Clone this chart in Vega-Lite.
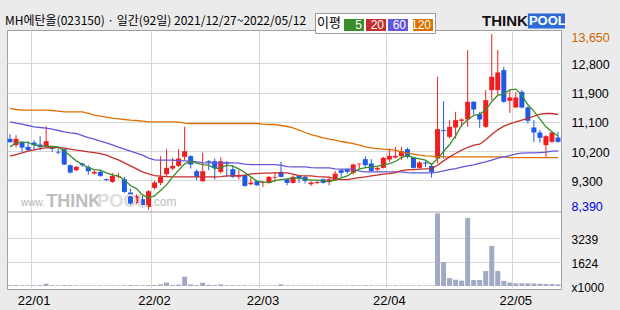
{
"$schema":"https://vega.github.io/schema/vega-lite/v6.json",
"width":554,"height":259,"autosize":"none",
"padding":{"left":7,"top":30,"right":59,"bottom":21},
"background":"#ebebeb",
"config":{"view":{"fill":"white","stroke":"#a0a0a0"},"axis":{"labelFont":"Liberation Sans","labelColor":"#000000","domain":false,"ticks":false,"gridColor":"#d8d8d8","gridWidth":1}},
"data":{"values":[
{"d":"2021-12-27","open":10510,"high":10650,"low":10390,"close":10410,"vol":60,"ma5":10270,"ma20":9990,"ma60":11020,"ma120":11420},
{"d":"2021-12-28","open":10320,"high":10620,"low":10250,"close":10510,"vol":60,"ma5":10390,"ma20":10040,"ma60":10980,"ma120":11390},
{"d":"2021-12-29","open":10400,"high":10420,"low":10120,"close":10250,"vol":50,"ma5":10420,"ma20":10090,"ma60":10950,"ma120":11370},
{"d":"2021-12-30","open":10270,"high":10440,"low":10150,"close":10170,"vol":50,"ma5":10400,"ma20":10140,"ma60":10910,"ma120":11370},
{"d":"2022-01-03","open":10400,"high":10470,"low":10170,"close":10320,"vol":50,"ma5":10330,"ma20":10180,"ma60":10870,"ma120":11370},
{"d":"2022-01-04","open":10340,"high":10590,"low":10170,"close":10260,"vol":60,"ma5":10300,"ma20":10220,"ma60":10850,"ma120":11370},
{"d":"2022-01-05","open":10270,"high":10890,"low":10250,"close":10440,"vol":150,"ma5":10290,"ma20":10240,"ma60":10830,"ma120":11370},
{"d":"2022-01-06","open":10250,"high":10300,"low":10120,"close":10210,"vol":50,"ma5":10280,"ma20":10250,"ma60":10800,"ma120":11360},
{"d":"2022-01-07","open":10120,"high":10220,"low":10050,"close":10100,"vol":40,"ma5":10270,"ma20":10250,"ma60":10760,"ma120":11340},
{"d":"2022-01-10","open":10200,"high":10220,"low":9720,"close":9740,"vol":60,"ma5":10150,"ma20":10230,"ma60":10720,"ma120":11320},
{"d":"2022-01-11","open":9720,"high":9740,"low":9470,"close":9500,"vol":60,"ma5":10000,"ma20":10200,"ma60":10690,"ma120":11320},
{"d":"2022-01-12","open":9570,"high":9700,"low":9540,"close":9670,"vol":40,"ma5":9850,"ma20":10170,"ma60":10670,"ma120":11320},
{"d":"2022-01-13","open":9770,"high":9790,"low":9670,"close":9720,"vol":40,"ma5":9750,"ma20":10150,"ma60":10610,"ma120":11320},
{"d":"2022-01-14","open":9670,"high":9720,"low":9440,"close":9540,"vol":40,"ma5":9640,"ma20":10120,"ma60":10550,"ma120":11270},
{"d":"2022-01-17","open":9470,"high":9570,"low":9440,"close":9520,"vol":40,"ma5":9590,"ma20":10100,"ma60":10500,"ma120":11220},
{"d":"2022-01-18","open":9520,"high":9570,"low":9370,"close":9400,"vol":40,"ma5":9570,"ma20":10070,"ma60":10440,"ma120":11190},
{"d":"2022-01-19","open":9300,"high":9320,"low":9250,"close":9270,"vol":40,"ma5":9490,"ma20":10020,"ma60":10390,"ma120":11160},
{"d":"2022-01-20","open":9220,"high":9490,"low":9190,"close":9400,"vol":40,"ma5":9430,"ma20":9950,"ma60":10330,"ma120":11130},
{"d":"2022-01-21","open":9370,"high":9490,"low":9320,"close":9390,"vol":40,"ma5":9400,"ma20":9880,"ma60":10260,"ma120":11110},
{"d":"2022-01-24","open":9300,"high":9370,"low":8890,"close":8920,"vol":50,"ma5":9280,"ma20":9790,"ma60":10200,"ma120":11090},
{"d":"2022-01-25","open":8900,"high":9020,"low":8470,"close":8570,"vol":60,"ma5":9110,"ma20":9700,"ma60":10140,"ma120":11070},
{"d":"2022-01-26","open":8590,"high":8850,"low":8550,"close":8800,"vol":50,"ma5":9020,"ma20":9610,"ma60":10080,"ma120":11060},
{"d":"2022-01-27","open":8700,"high":8800,"low":8450,"close":8470,"vol":50,"ma5":8830,"ma20":9520,"ma60":10020,"ma120":11040},
{"d":"2022-01-28","open":8470,"high":8970,"low":8390,"close":8940,"vol":60,"ma5":8740,"ma20":9460,"ma60":9930,"ma120":11020},
{"d":"2022-02-03","open":9040,"high":9250,"low":8990,"close":9200,"vol":60,"ma5":8800,"ma20":9410,"ma60":9880,"ma120":11020},
{"d":"2022-02-04","open":9190,"high":9990,"low":9120,"close":9370,"vol":110,"ma5":8960,"ma20":9390,"ma60":9870,"ma120":11020},
{"d":"2022-02-07","open":9450,"high":10200,"low":9370,"close":9640,"vol":230,"ma5":9130,"ma20":9380,"ma60":9870,"ma120":11020},
{"d":"2022-02-08","open":9620,"high":9940,"low":9570,"close":9700,"vol":70,"ma5":9370,"ma20":9370,"ma60":9870,"ma120":11020},
{"d":"2022-02-09","open":9700,"high":10200,"low":9670,"close":9920,"vol":90,"ma5":9570,"ma20":9370,"ma60":9860,"ma120":11010},
{"d":"2022-02-10","open":9970,"high":10870,"low":9870,"close":10140,"vol":620,"ma5":9760,"ma20":9370,"ma60":9850,"ma120":10980},
{"d":"2022-02-11","open":9990,"high":10020,"low":9620,"close":9740,"vol":110,"ma5":9830,"ma20":9370,"ma60":9840,"ma120":10970},
{"d":"2022-02-14","open":9540,"high":9600,"low":9270,"close":9370,"vol":60,"ma5":9780,"ma20":9370,"ma60":9820,"ma120":10970},
{"d":"2022-02-15","open":9240,"high":10100,"low":9220,"close":9540,"vol":220,"ma5":9740,"ma20":9370,"ma60":9800,"ma120":10970},
{"d":"2022-02-16","open":9840,"high":9870,"low":9570,"close":9800,"vol":80,"ma5":9720,"ma20":9370,"ma60":9790,"ma120":10970},
{"d":"2022-02-17","open":9840,"high":9920,"low":9290,"close":9640,"vol":60,"ma5":9620,"ma20":9370,"ma60":9790,"ma120":10970},
{"d":"2022-02-18","open":9520,"high":9950,"low":9470,"close":9840,"vol":110,"ma5":9640,"ma20":9380,"ma60":9790,"ma120":10970},
{"d":"2022-02-21","open":9810,"high":9840,"low":9370,"close":9770,"vol":50,"ma5":9720,"ma20":9400,"ma60":9790,"ma120":10970},
{"d":"2022-02-22","open":9600,"high":9720,"low":9340,"close":9370,"vol":50,"ma5":9690,"ma20":9400,"ma60":9790,"ma120":10970},
{"d":"2022-02-23","open":9370,"high":9570,"low":9290,"close":9420,"vol":40,"ma5":9610,"ma20":9410,"ma60":9780,"ma120":10970},
{"d":"2022-02-24","open":9420,"high":9440,"low":9070,"close":9100,"vol":50,"ma5":9500,"ma20":9420,"ma60":9750,"ma120":10970},
{"d":"2022-02-25","open":9150,"high":9350,"low":9120,"close":9200,"vol":40,"ma5":9370,"ma20":9460,"ma60":9740,"ma120":10970},
{"d":"2022-02-28","open":9240,"high":9270,"low":9100,"close":9120,"vol":40,"ma5":9240,"ma20":9470,"ma60":9740,"ma120":10970},
{"d":"2022-03-02","open":9190,"high":9250,"low":9070,"close":9220,"vol":40,"ma5":9210,"ma20":9480,"ma60":9740,"ma120":10950},
{"d":"2022-03-03","open":9190,"high":9400,"low":9170,"close":9370,"vol":40,"ma5":9200,"ma20":9480,"ma60":9740,"ma120":10940},
{"d":"2022-03-04","open":9350,"high":9520,"low":9220,"close":9370,"vol":40,"ma5":9260,"ma20":9490,"ma60":9740,"ma120":10940},
{"d":"2022-03-07","open":9520,"high":9820,"low":9350,"close":9370,"vol":110,"ma5":9290,"ma20":9490,"ma60":9720,"ma120":10910},
{"d":"2022-03-08","open":9300,"high":9320,"low":9120,"close":9190,"vol":40,"ma5":9310,"ma20":9490,"ma60":9680,"ma120":10880},
{"d":"2022-03-10","open":9190,"high":9420,"low":9170,"close":9370,"vol":40,"ma5":9340,"ma20":9450,"ma60":9670,"ma120":10840},
{"d":"2022-03-11","open":9400,"high":9420,"low":9190,"close":9320,"vol":40,"ma5":9330,"ma20":9410,"ma60":9670,"ma120":10770},
{"d":"2022-03-14","open":9370,"high":9400,"low":9170,"close":9250,"vol":40,"ma5":9300,"ma20":9400,"ma60":9670,"ma120":10700},
{"d":"2022-03-15","open":9150,"high":9240,"low":9100,"close":9200,"vol":40,"ma5":9270,"ma20":9400,"ma60":9650,"ma120":10640},
{"d":"2022-03-16","open":9190,"high":9240,"low":9150,"close":9220,"vol":40,"ma5":9270,"ma20":9380,"ma60":9640,"ma120":10590},
{"d":"2022-03-17","open":9300,"high":9320,"low":9170,"close":9190,"vol":40,"ma5":9240,"ma20":9370,"ma60":9640,"ma120":10540},
{"d":"2022-03-18","open":9220,"high":9370,"low":9120,"close":9300,"vol":40,"ma5":9230,"ma20":9360,"ma60":9640,"ma120":10500},
{"d":"2022-03-21","open":9270,"high":9550,"low":9250,"close":9470,"vol":40,"ma5":9280,"ma20":9300,"ma60":9610,"ma120":10470},
{"d":"2022-03-22","open":9570,"high":9600,"low":9370,"close":9490,"vol":40,"ma5":9340,"ma20":9290,"ma60":9600,"ma120":10430},
{"d":"2022-03-23","open":9600,"high":9620,"low":9470,"close":9520,"vol":40,"ma5":9400,"ma20":9290,"ma60":9600,"ma120":10400},
{"d":"2022-03-24","open":9490,"high":9770,"low":9440,"close":9740,"vol":50,"ma5":9510,"ma20":9320,"ma60":9600,"ma120":10370},
{"d":"2022-03-25","open":9750,"high":9770,"low":9600,"close":9770,"vol":40,"ma5":9600,"ma20":9350,"ma60":9540,"ma120":10320},
{"d":"2022-03-28","open":9900,"high":9990,"low":9670,"close":9720,"vol":50,"ma5":9650,"ma20":9370,"ma60":9520,"ma120":10270},
{"d":"2022-03-29","open":9770,"high":9900,"low":9520,"close":9550,"vol":40,"ma5":9660,"ma20":9400,"ma60":9520,"ma120":10240},
{"d":"2022-03-30","open":9590,"high":9670,"low":9520,"close":9640,"vol":40,"ma5":9690,"ma20":9420,"ma60":9520,"ma120":10220},
{"d":"2022-03-31","open":9640,"high":9970,"low":9620,"close":9940,"vol":40,"ma5":9730,"ma20":9450,"ma60":9520,"ma120":10200},
{"d":"2022-04-01","open":9890,"high":10220,"low":9820,"close":10000,"vol":40,"ma5":9770,"ma20":9470,"ma60":9520,"ma120":10190},
{"d":"2022-04-04","open":9950,"high":10270,"low":9920,"close":10000,"vol":40,"ma5":9830,"ma20":9500,"ma60":9520,"ma120":10170},
{"d":"2022-04-05","open":9990,"high":10270,"low":9870,"close":10140,"vol":40,"ma5":9950,"ma20":9560,"ma60":9520,"ma120":10110},
{"d":"2022-04-06","open":10200,"high":10250,"low":9920,"close":9970,"vol":40,"ma5":10010,"ma20":9580,"ma60":9500,"ma120":10080},
{"d":"2022-04-07","open":9950,"high":9970,"low":9620,"close":9640,"vol":40,"ma5":9950,"ma20":9590,"ma60":9490,"ma120":10050},
{"d":"2022-04-08","open":9640,"high":9840,"low":9620,"close":9800,"vol":40,"ma5":9910,"ma20":9600,"ma60":9490,"ma120":10020},
{"d":"2022-04-11","open":9800,"high":9840,"low":9670,"close":9770,"vol":40,"ma5":9870,"ma20":9610,"ma60":9490,"ma120":10000},
{"d":"2022-04-12","open":9700,"high":9770,"low":9350,"close":9520,"vol":40,"ma5":9740,"ma20":9620,"ma60":9490,"ma120":9990},
{"d":"2022-04-13","open":9920,"high":12370,"low":9770,"close":10800,"vol":4850,"ma5":9910,"ma20":9720,"ma60":9510,"ma120":9970},
{"d":"2022-04-14","open":10770,"high":11640,"low":9920,"close":10740,"vol":1600,"ma5":10130,"ma20":9850,"ma60":9550,"ma120":9970},
{"d":"2022-04-15","open":10570,"high":11070,"low":10520,"close":10870,"vol":530,"ma5":10340,"ma20":9970,"ma60":9590,"ma120":9970},
{"d":"2022-04-18","open":10850,"high":11320,"low":10520,"close":11070,"vol":420,"ma5":10600,"ma20":10070,"ma60":9620,"ma120":9970},
{"d":"2022-04-19","open":11050,"high":11120,"low":10870,"close":11090,"vol":360,"ma5":10920,"ma20":10170,"ma60":9660,"ma120":9970},
{"d":"2022-04-20","open":11090,"high":13170,"low":10870,"close":11620,"vol":4550,"ma5":11080,"ma20":10250,"ma60":9700,"ma120":9970},
{"d":"2022-04-21","open":11620,"high":11640,"low":11220,"close":11390,"vol":400,"ma5":11210,"ma20":10320,"ma60":9730,"ma120":9970},
{"d":"2022-04-22","open":11250,"high":11320,"low":10840,"close":11090,"vol":400,"ma5":11250,"ma20":10350,"ma60":9780,"ma120":9970},
{"d":"2022-04-25","open":10870,"high":11970,"low":10840,"close":11670,"vol":1000,"ma5":11370,"ma20":10480,"ma60":9820,"ma120":9970},
{"d":"2022-04-26","open":11970,"high":13650,"low":11670,"close":12370,"vol":2680,"ma5":11630,"ma20":10640,"ma60":9870,"ma120":9970},
{"d":"2022-04-27","open":11970,"high":13170,"low":11820,"close":12500,"vol":1010,"ma5":11810,"ma20":10780,"ma60":9930,"ma120":9970},
{"d":"2022-04-28","open":12570,"high":12670,"low":11590,"close":11620,"vol":340,"ma5":11850,"ma20":10890,"ma60":9970,"ma120":9970},
{"d":"2022-04-29","open":11650,"high":11970,"low":11290,"close":11750,"vol":230,"ma5":11980,"ma20":10960,"ma60":10010,"ma120":9950},
{"d":"2022-05-02","open":11450,"high":11920,"low":11440,"close":11750,"vol":180,"ma5":12000,"ma20":11020,"ma60":10060,"ma120":9950},
{"d":"2022-05-03","open":11920,"high":11970,"low":11420,"close":11450,"vol":180,"ma5":11820,"ma20":11070,"ma60":10080,"ma120":9950},
{"d":"2022-05-04","open":11450,"high":11490,"low":10970,"close":11050,"vol":180,"ma5":11530,"ma20":11120,"ma60":10090,"ma120":9950},
{"d":"2022-05-06","open":10850,"high":11070,"low":10420,"close":10700,"vol":170,"ma5":11340,"ma20":11190,"ma60":10090,"ma120":9950},
{"d":"2022-05-09","open":10700,"high":10770,"low":10400,"close":10540,"vol":150,"ma5":11100,"ma20":11250,"ma60":10100,"ma120":9950},
{"d":"2022-05-10","open":10320,"high":10620,"low":9950,"close":10590,"vol":140,"ma5":10870,"ma20":11270,"ma60":10110,"ma120":9950},
{"d":"2022-05-11","open":10420,"high":10720,"low":10390,"close":10700,"vol":130,"ma5":10720,"ma20":11270,"ma60":10140,"ma120":9950},
{"d":"2022-05-12","open":10550,"high":10720,"low":10390,"close":10420,"vol":110,"ma5":10590,"ma20":11240,"ma60":10150,"ma120":9950}
]},
"encoding":{"x":{"field":"d","type":"ordinal","scale":{"type":"band","paddingInner":0,"paddingOuter":0},
 "axis":{"values":["2022-01-03","2022-02-03","2022-03-02","2022-04-01","2022-05-02"],"bandPosition":0,"labelExpr":"slice(datum.value,2,4) + '/' + slice(datum.value,5,7)","title":null,"grid":true,"labelFontSize":13,"labelPadding":5,"labelAngle":0}}},
"layer":[
 {"layer":[
  {"mark":{"type":"rule","strokeWidth":1},
   "encoding":{"y":{"field":"low","type":"quantitative","scale":{"domain":[6010,13772],"zero":false,"nice":false},
     "axis":{"orient":"right","title":null,"values":[13650,12773.33,11896.67,11020,10143.33,9266.67,8390],
      "labelExpr":"datum.value > 13600 ? '13,650' : datum.value < 8400 ? '8,390' : format(ceil(datum.value/100)*100, ',')",
      "labelColor":{"condition":[{"test":"datum.value > 13600","value":"#cc6600"},{"test":"datum.value < 8400","value":"#0000dd"}],"value":"#000000"},
      "labelOffset":{"condition":[{"test":"datum.value > 13600","value":3},{"test":"datum.value < 8400","value":-3}],"value":1},
      "grid":true,"gridOpacity":{"condition":{"test":"datum.value > 13600 || datum.value < 8400","value":0},"value":1},
      "labelPadding":10,"labelFontSize":12.5}},
    "y2":{"field":"high"},
    "color":{"condition":{"test":"datum.close >= datum.open","value":"#f01e1e"},"value":"#1e5ae6"}}},
  {"mark":{"type":"bar","width":5},
   "encoding":{"y":{"field":"open","type":"quantitative"},"y2":{"field":"close"},
    "color":{"condition":{"test":"datum.close >= datum.open","value":"#f01e1e"},"value":"#1e5ae6"}}},
  {"transform":[{"fold":["ma120","ma60","ma20","ma5"],"as":["ma","val"]}],
   "mark":{"type":"line","strokeWidth":1.3},
   "encoding":{"y":{"field":"val","type":"quantitative"},
    "color":{"field":"ma","type":"nominal","scale":{"domain":["ma5","ma20","ma60","ma120"],"range":["#3c8c28","#c62e2e","#6457d8","#de7000"]},
     "legend":{"orient":"none","legendX":308,"legendY":-17,"direction":"horizontal","title":"이평","titleOrient":"left","titleFont":"Noto Sans CJK KR","titleFontSize":13,"titleFontWeight":"normal","titleColor":"#000000","titlePadding":3,
      "symbolType":"M-1,-0.6H1V0.6H-1Z","symbolSize":400,"symbolStrokeWidth":0,"labelColor":"white","labelAlign":"right","labelOffset":-2,"labelFont":"Liberation Sans","labelFontSize":12,
      "columnPadding":2,"padding":2,"fillColor":"white","strokeColor":"#9a9a9a","labelExpr":"replace(datum.label,'ma','')",
      "encode":{"symbols":{"update":{"fill":{"scale":"color","field":"value"},"fillOpacity":{"value":1},"strokeWidth":{"value":0}}}}},
     "sort":["ma5","ma20","ma60","ma120"]}}},
  {"data":{"values":[{}]},"mark":{"type":"rule","color":"#a0a0a0","strokeWidth":1.2},"encoding":{"x":null,"y":{"datum":8318,"type":"quantitative"}}},
  {"data":{"values":[{}]},"mark":{"type":"text","text":"www.","align":"left","baseline":"alphabetic","fontSize":10,"font":"Liberation Sans","color":"#b5b5b5","dx":-1},
   "encoding":{"x":{"datum":"2021-12-29","type":"ordinal"},"y":{"datum":8500,"type":"quantitative"}}},
  {"data":{"values":[{}]},"mark":{"type":"text","text":"THINK","align":"left","baseline":"alphabetic","fontSize":18,"fontWeight":"bold","font":"Liberation Sans","color":"#bdbdbd"},
   "encoding":{"x":{"datum":"2022-01-05","type":"ordinal"},"y":{"datum":8470,"type":"quantitative"}}},
  {"data":{"values":[{}]},"mark":{"type":"text","text":"POOL","align":"left","baseline":"alphabetic","fontSize":18,"fontWeight":"bold","font":"Liberation Sans","color":"#dedede","dx":-3},
   "encoding":{"x":{"datum":"2022-01-18","type":"ordinal"},"y":{"datum":8470,"type":"quantitative"}}},
  {"data":{"values":[{}]},"mark":{"type":"text","text":".com","align":"left","baseline":"alphabetic","fontSize":12,"font":"Liberation Sans","color":"#bdbdbd","dx":-4},
   "encoding":{"x":{"datum":"2022-02-03","type":"ordinal"},"y":{"datum":8500,"type":"quantitative"}}},
  {"data":{"values":[{}]},"mark":{"type":"text","text":"MH에탄올(023150) · 일간(92일) 2021/12/27~2022/05/12","align":"left","baseline":"middle","fontSize":12,"font":"Noto Sans CJK KR","color":"#000000","dx":-5},
   "encoding":{"x":{"datum":"2021-12-27","type":"ordinal"},"y":{"datum":14042,"type":"quantitative"}}},
  {"data":{"values":[{}]},"mark":{"type":"rule","color":"#2d6ad8","strokeWidth":15,"x2Offset":7},
   "encoding":{"x":{"datum":"2022-05-04","type":"ordinal"},"x2":{"datum":"2022-05-12"},"y":{"datum":14042,"type":"quantitative"}}},
  {"data":{"values":[{}]},"mark":{"type":"text","text":"THINK","align":"right","baseline":"middle","fontSize":15,"fontWeight":"bold","font":"Liberation Sans","color":"#111111"},
   "encoding":{"x":{"datum":"2022-05-04","type":"ordinal"},"y":{"datum":14042,"type":"quantitative"}}},
  {"data":{"values":[{}]},"mark":{"type":"text","text":"POOL","align":"left","baseline":"middle","fontSize":13,"fontWeight":"bold","font":"Liberation Sans","color":"#ffffff","dx":1},
   "encoding":{"x":{"datum":"2022-05-04","type":"ordinal"},"y":{"datum":14042,"type":"quantitative"}}}
 ]},
 {"mark":{"type":"bar","width":5,"color":"#a2a9c2"},
  "encoding":{"y":{"field":"vol","type":"quantitative","scale":{"domain":[-200,17100],"nice":false,"zero":false},
   "axis":{"orient":"right","title":null,"values":[0,1624,3239],"labelExpr":"datum.value == 0 ? 'x1000' : format(datum.value,'d')",
    "grid":true,"gridOpacity":{"condition":{"test":"datum.value == 0","value":0},"value":1},"labelPadding":10,"labelFontSize":12,"labelOffset":1.5}}}}
],
"resolve":{"scale":{"y":"independent"}}
}
